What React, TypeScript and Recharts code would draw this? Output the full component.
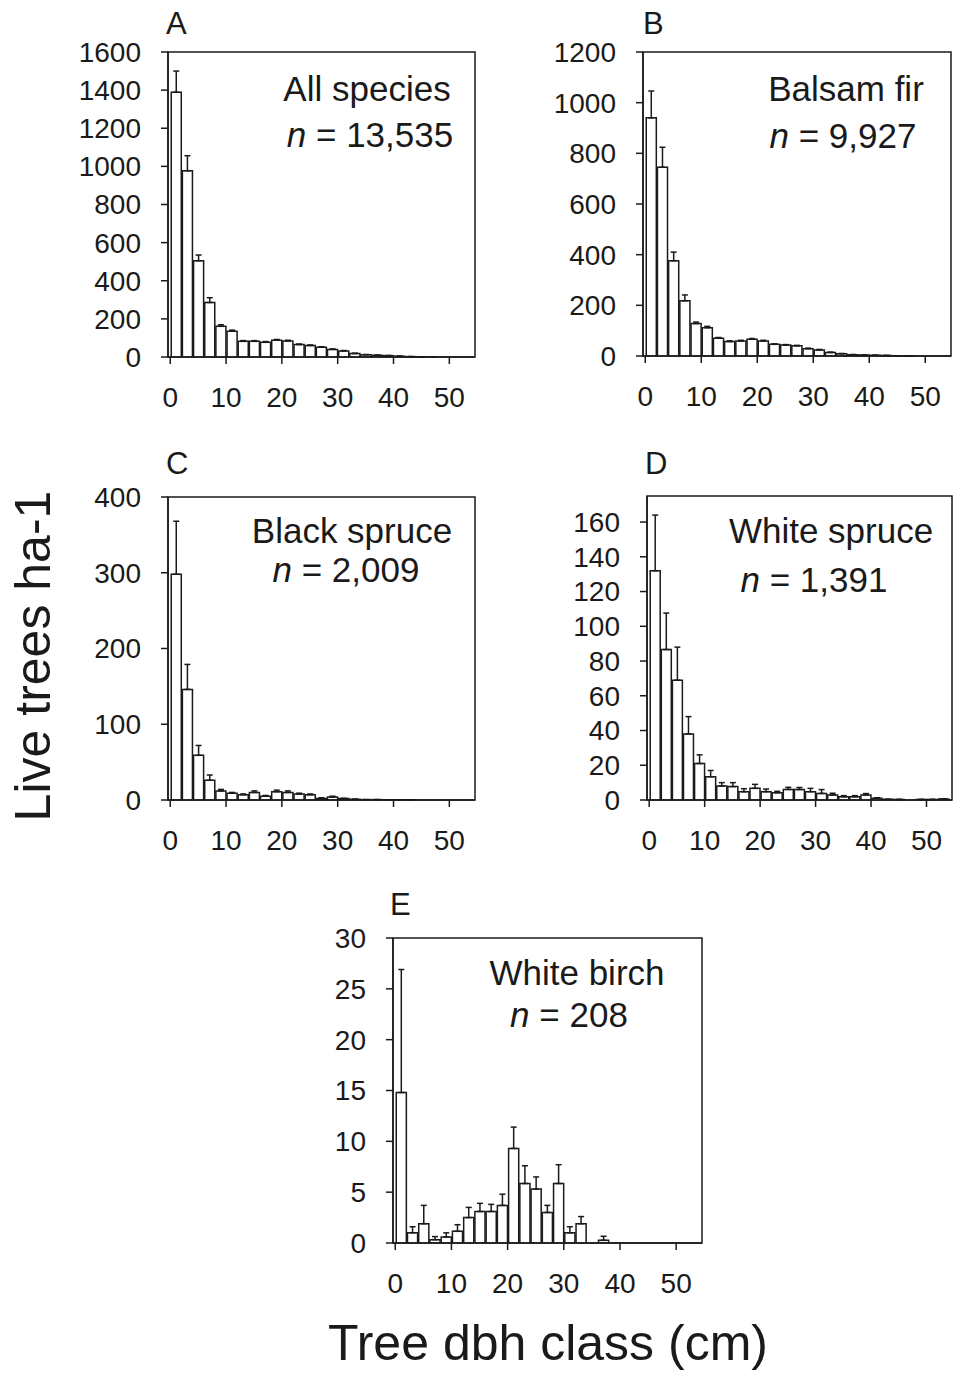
import { BarChart, Bar, XAxis, YAxis, ErrorBar, ReferenceArea } from "recharts";

// dbh class midpoints (cm), 2-cm classes
const dbhClass = [1, 3, 5, 7, 9, 11, 13, 15, 17, 19, 21, 23, 25, 27, 29, 31, 33, 35, 37, 39, 41, 43, 45, 47, 49, 51, 53];
const xTicks = [0, 10, 20, 30, 40, 50];

const allSpecies = [1389, 977, 505, 286, 161, 135, 82, 82, 77, 88, 84, 65, 60, 51, 40, 32, 18, 12, 9, 7, 4, 2, 1, 1, 0, 0, 0];
const allSpeciesErr = [111, 79, 30, 25, 8, 6, 4, 4, 4, 4, 4, 3, 3, 3, 2, 2, 2, 1, 1, 1, 1, 0, 0, 0, 0, 0, 0];

const balsamFir = [940, 745, 376, 218, 128, 112, 70, 57, 59, 66, 59, 46, 43, 40, 29, 24, 14, 9, 5, 4, 3, 2, 1, 1, 0, 0, 0];
const balsamFirErr = [106, 79, 34, 23, 6, 5, 3, 3, 3, 3, 3, 2, 2, 2, 2, 2, 1, 1, 1, 0, 0, 0, 0, 0, 0, 0, 0];

const blackSpruce = [298, 146, 59, 26, 12, 9, 7, 10, 5, 11, 10, 8, 7, 2, 4, 2, 1, 0.5, 0.5, 0.3, 0.3, 0.2, 0, 0, 0, 0, 0];
const blackSpruceErr = [70, 33, 13, 7, 2, 1, 1, 2, 1, 2, 2, 1, 1, 1, 1, 0, 0, 0, 0, 0, 0, 0, 0, 0, 0, 0, 0];

const whiteSpruce = [132, 86.6, 69, 38, 21, 13.4, 8, 7.7, 4.8, 6.7, 4.8, 4.2, 6.1, 6, 4.8, 3.8, 2.9, 1.9, 1.9, 2.9, 1, 0.4, 0.3, 0, 0.3, 0.3, 0.6];
const whiteSpruceErr = [32, 21, 19, 10, 5, 3.6, 2, 2.3, 1.7, 2.3, 1.5, 0.8, 1.2, 1.2, 1.9, 2.2, 1, 0.6, 0.6, 0.8, 0.3, 0, 0, 0, 0, 0, 0];

const whiteBirch = [14.8, 1.0, 1.9, 0.33, 0.6, 1.15, 2.5, 3.1, 3.1, 3.7, 9.3, 5.85, 5.3, 3.0, 5.85, 1.0, 1.9, 0, 0.26, 0, 0, 0, 0, 0, 0, 0, 0];
const whiteBirchErr = [12.1, 0.6, 1.8, 0.3, 0.4, 0.65, 1.0, 0.8, 0.7, 1.1, 2.1, 1.75, 1.2, 0.7, 1.85, 0.6, 0.7, 0, 0.4, 0, 0, 0, 0, 0, 0, 0, 0];

const ticksA = [0, 200, 400, 600, 800, 1000, 1200, 1400, 1600];
const ticksB = [0, 200, 400, 600, 800, 1000, 1200];
const ticksC = [0, 100, 200, 300, 400];
const ticksD = [0, 20, 40, 60, 80, 100, 120, 140, 160];
const ticksE = [0, 5, 10, 15, 20, 25, 30];

const FONT = "'Liberation Sans', Arial, Helvetica, sans-serif";
const INK = "#1a1a1a";
const X_MIN = -0.4;
const X_MAX = 54.6;

const rows = (vals: number[], errs: number[]) =>
  dbhClass.map((dbh, i) => ({ dbh, value: vals[i], err: errs[i] }));

type PanelProps = {
  vals: number[];
  errs: number[];
  ticks: number[];
  yMax: number;
  left: number;
  top: number;
  width: number;
  height: number;
};

function Panel({ vals, errs, ticks, yMax, left, top, width, height }: PanelProps) {
  const yAxisW = 120;
  const padTop = 24;
  const barW = (width / (X_MAX - X_MIN)) * 2;
  return (
    <div style={{ position: "absolute", left: left - yAxisW, top: top - padTop }}>
      <BarChart
        width={yAxisW + width + 10}
        height={padTop + height + 60}
        data={rows(vals, errs)}
        margin={{ top: padTop, right: 10, left: 0, bottom: 0 }}
        barCategoryGap={0}
        barGap={0}
      >
        <XAxis
          type="number"
          dataKey="dbh"
          domain={[X_MIN, X_MAX]}
          ticks={xTicks}
          interval={0}
          allowDataOverflow
          height={60}
          tickSize={7}
          tickMargin={23}
          axisLine={{ stroke: INK, strokeWidth: 1.5 }}
          tickLine={{ stroke: INK, strokeWidth: 1.5 }}
          tick={{ fill: INK, fontSize: 28, fontFamily: FONT }}
        />
        <YAxis
          type="number"
          domain={[0, yMax]}
          ticks={ticks}
          interval={0}
          allowDataOverflow
          width={yAxisW}
          tickSize={7}
          tickMargin={20}
          axisLine={{ stroke: INK, strokeWidth: 1.5 }}
          tickLine={{ stroke: INK, strokeWidth: 1.5 }}
          tick={{ fill: INK, fontSize: 28, fontFamily: FONT }}
        />
        <ReferenceArea x1={X_MIN} x2={X_MAX} y1={0} y2={yMax} fill="none" stroke={INK} strokeWidth={1.5} />
        <Bar dataKey="value" fill="#fff" stroke={INK} strokeWidth={1.5} barSize={barW} isAnimationActive={false}>
          <ErrorBar dataKey={(d: any) => [0, d.err]} width={3} stroke={INK} strokeWidth={1.5} direction="y" />
        </Bar>
      </BarChart>
    </div>
  );
}

const txt = { fontFamily: FONT, fill: INK } as const;

export default function App() {
  return (
    <div style={{ position: "absolute", left: 0, top: 0, width: 953, height: 1374, background: "#fff", overflow: "hidden" }}>
      <Panel vals={allSpecies} errs={allSpeciesErr} ticks={ticksA} yMax={1600} left={168} top={52} width={307} height={305} />
      <Panel vals={balsamFir} errs={balsamFirErr} ticks={ticksB} yMax={1200} left={643} top={52} width={308} height={304} />
      <Panel vals={blackSpruce} errs={blackSpruceErr} ticks={ticksC} yMax={400} left={168} top={497} width={307} height={303} />
      <Panel vals={whiteSpruce} errs={whiteSpruceErr} ticks={ticksD} yMax={175} left={647} top={496} width={305} height={304} />
      <Panel vals={whiteBirch} errs={whiteBirchErr} ticks={ticksE} yMax={30} left={393} top={938} width={309} height={305} />

      <svg width={953} height={1374} style={{ position: "absolute", left: 0, top: 0, pointerEvents: "none" }}>
        <g style={txt} fontSize={31}>
          <text x={166} y={34}>A</text>
          <text x={643} y={34}>B</text>
          <text x={166} y={474}>C</text>
          <text x={645} y={474}>D</text>
          <text x={390} y={915}>E</text>
        </g>
        <g style={txt} fontSize={35} textAnchor="middle">
          <text x={367} y={101}>All species</text>
          <text x={370} y={147}><tspan fontStyle="italic">n</tspan> = 13,535</text>
          <text x={846} y={101}>Balsam fir</text>
          <text x={843} y={148}><tspan fontStyle="italic">n</tspan> = 9,927</text>
          <text x={352} y={543}>Black spruce</text>
          <text x={346} y={582}><tspan fontStyle="italic">n</tspan> = 2,009</text>
          <text x={831} y={543}>White spruce</text>
          <text x={814} y={592}><tspan fontStyle="italic">n</tspan> = 1,391</text>
          <text x={577} y={985}>White birch</text>
          <text x={569} y={1027}><tspan fontStyle="italic">n</tspan> = 208</text>
        </g>
        <g style={txt} fontSize={50} textAnchor="middle">
          <text x={548} y={1360}>Tree dbh class (cm)</text>
          <text transform="translate(50,656) rotate(-90)">Live trees ha-1</text>
        </g>
      </svg>
    </div>
  );
}
